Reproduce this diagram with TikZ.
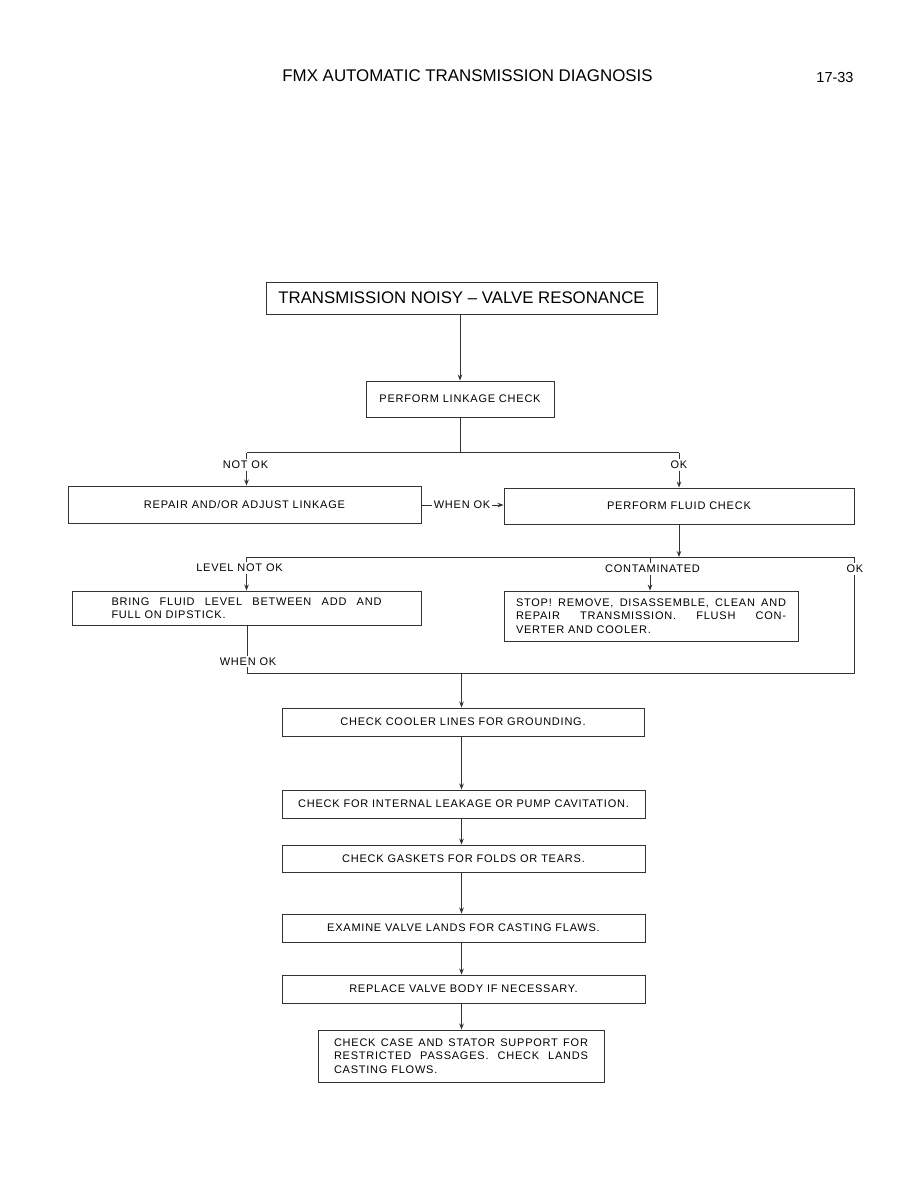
\documentclass[tikz,border=0pt]{standalone}
\usepackage{fontspec}
\setmainfont{Liberation Sans}
\newfontfamily\bxfont[LetterSpace=7]{Liberation Sans}
\usetikzlibrary{arrows.meta}
\begin{document}
\begin{tikzpicture}[x=1pt,y=-1pt,
  box/.style={draw=black!80, line width=0.9pt, inner sep=0pt,
    font=\bxfont\fontsize{11}{13.5}\selectfont},
  lab/.style={inner sep=1.5pt, font=\bxfont\fontsize{11}{13.5}\selectfont},
  ln/.style={draw=black!80, line width=0.9pt},
  arr/.style={ln, -{Stealth[length=6pt,width=4.5pt]}}]
\fill[white] (0,0) rectangle (918,1188);
\useasboundingbox (0,0) rectangle (918,1188);

% header
\node[anchor=base, inner sep=0pt, font=\fontsize{16.9}{19}\selectfont] (h1) at (467.5,82) {FMX AUTOMATIC TRANSMISSION DIAGNOSIS};
\node[anchor=base, inner sep=0pt, font=\fontsize{14.5}{16}\selectfont] (h2) at (835,82.5) {17-33};

% boxes
\node[box, minimum width=391pt, minimum height=32pt, font=\fontsize{16.8}{18}\selectfont] (b1) at (461.5,298) {TRANSMISSION NOISY \textendash{} VALVE RESONANCE};
\node[box, minimum width=188pt, minimum height=36pt] (b2) at (460,399) {PERFORM LINKAGE CHECK};
\node[box, minimum width=353pt, minimum height=37pt] (b3) at (244.5,504.5) {REPAIR AND/OR ADJUST LINKAGE};
\node[box, minimum width=350pt, minimum height=36pt] (b4) at (679,506) {PERFORM FLUID CHECK};
\node[box, minimum width=349pt, minimum height=34pt, align=left] (b5) at (246.5,608)
  {\makebox[270pt][s]{BRING FLUID LEVEL BETWEEN ADD AND}\\FULL ON DIPSTICK.};
\node[box, minimum width=294pt, minimum height=50pt, align=left] (b6) at (651,616)
  {\makebox[270pt][s]{STOP! REMOVE, DISASSEMBLE, CLEAN AND}\\\makebox[270pt][s]{REPAIR TRANSMISSION. FLUSH CON-}\\VERTER AND COOLER.};
\node[box, minimum width=362pt, minimum height=28pt] (b7) at (463,722) {CHECK COOLER LINES FOR GROUNDING.};
\node[box, minimum width=363pt, minimum height=28pt] (b8) at (463.5,804) {CHECK FOR INTERNAL LEAKAGE OR PUMP CAVITATION.};
\node[box, minimum width=363pt, minimum height=27pt] (b9) at (463.5,858.5) {CHECK GASKETS FOR FOLDS OR TEARS.};
\node[box, minimum width=363pt, minimum height=28pt] (b10) at (463.5,928) {EXAMINE VALVE LANDS FOR CASTING FLAWS.};
\node[box, minimum width=363pt, minimum height=28pt] (b11) at (463.5,989) {REPLACE VALVE BODY IF NECESSARY.};
\node[box, minimum width=286pt, minimum height=52pt, align=left] (b12) at (461,1056)
  {\makebox[254pt][s]{CHECK CASE AND STATOR SUPPORT FOR}\\\makebox[254pt][s]{RESTRICTED PASSAGES. CHECK LANDS}\\CASTING FLOWS.};

% labels
\node[lab] (l1) at (245.5,465) {NOT OK};
\node[lab] (l2) at (679,465) {OK};
\node[lab] (l3) at (462,505) {WHEN OK};
\node[lab] (l4) at (239.5,568) {LEVEL NOT OK};
\node[lab] (l5) at (652.5,569) {CONTAMINATED};
\node[lab] (l6) at (855,569) {OK};
\node[lab] (l7) at (248,661.5) {WHEN OK};

% junction points
\coordinate (j1) at (460,452.5);
\coordinate (jl) at (246.5,452.5);
\coordinate (jr) at (679,452.5);
\coordinate (j2) at (679,557);
\coordinate (kl) at (246.5,557);
\coordinate (kc) at (650,557);
\coordinate (kr) at (854,557);
\coordinate (ml) at (247,673.5);
\coordinate (mc) at (461.5,673.5);
\coordinate (mr) at (854,673.5);

% connectors
\draw[arr] (b1.south -| b2) -- (b2.north);
\draw[ln] (b2.south) -- (j1);
\draw[ln] (jl) -- (jr);
\draw[ln] (jl) -- (l1.north -| jl);
\draw[arr] (l1.south -| jl) -- (b3.north -| jl);
\draw[ln] (jr) -- (l2.north -| jr);
\draw[arr] (l2.south -| jr) -- (b4.north -| jr);
\draw[ln] (b3.east |- l3) -- (l3.west);
\draw[arr] (l3.east) -- (b4.west |- l3);

\draw[arr] (b4.south) -- (j2);
\draw[ln] (kl) -- (kr);
\draw[ln] (kl) -- (l4.north -| kl);
\draw[arr] (l4.south -| kl) -- (b5.north -| kl);
\draw[ln] (kc) -- (l5.north -| kc);
\draw[arr] (l5.south -| kc) -- (b6.north -| kc);
\draw[ln] (kr) -- (l6.north -| kr);
\draw[ln] (l6.south -| kr) -- (mr);
\draw[ln] (b5.south -| ml) -- (l7.north -| ml);
\draw[ln] (l7.south -| ml) -- (ml);
\draw[ln] (ml) -- (mr);
\draw[arr] (mc) -- (b7.north -| mc);

\draw[arr] (b7.south -| mc) -- (b8.north -| mc);
\draw[arr] (b8.south -| mc) -- (b9.north -| mc);
\draw[arr] (b9.south -| mc) -- (b10.north -| mc);
\draw[arr] (b10.south -| mc) -- (b11.north -| mc);
\draw[arr] (b11.south -| mc) -- (b12.north -| mc);
\end{tikzpicture}
\end{document}
